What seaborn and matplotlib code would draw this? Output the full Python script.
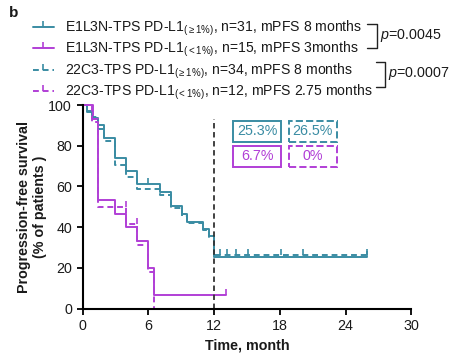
import matplotlib
matplotlib.use("Agg")
import matplotlib.pyplot as plt
import seaborn as sns
import pandas as pd
from matplotlib.lines import Line2D
from matplotlib.patches import Rectangle

# ---- Kaplan-Meier steps ----
e1_pos_t = [0, 0.42, 0.9, 1.43, 1.95, 3.0, 4.0, 5.0, 7.07, 8.04, 9.05, 9.56, 11.03, 11.55, 12.0, 26.0]
e1_pos_s = [100, 96.8, 93.5, 90.3, 83.9, 74.2, 67.7, 61.3, 57.5, 50.5, 46.5, 42.7, 39.3, 35.5, 25.3, 25.3]
e1_pos_cens_t = [6.0, 26.0]
e1_pos_cens_s = [61.3, 25.3]

e1_neg_t = [0, 0.97, 1.43, 2.95, 3.96, 5.0, 6.0, 6.52, 13.1]
e1_neg_s = [100, 93.3, 53.3, 46.7, 40.0, 33.3, 20.0, 6.7, 6.7]
e1_neg_cens_t = [13.1]
e1_neg_cens_s = [6.7]

c22_pos_t = [0, 0.42, 0.9, 1.43, 1.95, 3.0, 4.0, 5.0, 7.07, 8.04, 9.05, 9.56, 11.03, 11.55, 12.0, 26.0]
c22_pos_s = [100, 97.1, 94.1, 88.2, 82.4, 70.6, 64.7, 58.8, 55.9, 49.5, 45.5, 41.8, 38.5, 35.0, 26.5, 26.5]
c22_pos_cens_t = [12.5, 13.2, 14.0, 15.1, 18.1, 20.1, 26.0]
c22_pos_cens_s = [26.5, 26.5, 26.5, 26.5, 26.5, 26.5, 26.5]

c22_neg_t = [0, 0.9, 1.43, 4.0, 5.0, 6.0, 6.52]
c22_neg_s = [100, 91.7, 50.0, 41.7, 31.3, 18.0, 0.0]
c22_neg_cens_t = [4.0, 5.0]
c22_neg_cens_s = [50.0, 41.7]

labels = [
    r"E1L3N-TPS PD-L1$_{(\geq1\%)}$, n=31, mPFS 8 months",
    r"E1L3N-TPS PD-L1$_{(<1\%)}$, n=15, mPFS 3months",
    r"22C3-TPS PD-L1$_{(\geq1\%)}$, n=34, mPFS 8 months",
    r"22C3-TPS PD-L1$_{(<1\%)}$, n=12, mPFS 2.75 months",
]
pct_labels = ["25.3%", "26.5%", "6.7%", "0%"]
p_values = ["0.0045", "0.0007"]

TEAL = "#3a8ca3"
MAG = "#b13fd6"
INK = "#1a1a1a"
DASH = (0, (3, 2))

sns.set_theme(style="ticks")
plt.rcParams["font.family"] = ["Liberation Sans", "DejaVu Sans"]
plt.rcParams["mathtext.fontset"] = "custom"
plt.rcParams["mathtext.rm"] = "Liberation Sans"
plt.rcParams["mathtext.it"] = "Liberation Sans:italic"
plt.rcParams["mathtext.bf"] = "Liberation Sans:bold"
plt.rcParams["mathtext.default"] = "regular"
plt.rcParams["text.color"] = INK
plt.rcParams["axes.labelcolor"] = INK

fig = plt.figure(figsize=(4.56, 3.6), dpi=100)
ax = fig.add_axes([0.181, 0.143, 0.721, 0.565])

groups = [
    (e1_pos_t, e1_pos_s, e1_pos_cens_t, e1_pos_cens_s, TEAL, "-"),
    (e1_neg_t, e1_neg_s, e1_neg_cens_t, e1_neg_cens_s, MAG, "-"),
    (c22_pos_t, c22_pos_s, c22_pos_cens_t, c22_pos_cens_s, TEAL, DASH),
    (c22_neg_t, c22_neg_s, c22_neg_cens_t, c22_neg_cens_s, MAG, DASH),
]

for t, s, ct, cs, col, ls in groups:
    df = pd.DataFrame({"time": t, "surv": s})
    sns.lineplot(data=df, x="time", y="surv", ax=ax, color=col, linestyle=ls,
                 drawstyle="steps-post", estimator=None, lw=1.4, clip_on=False)
    ax.plot(ct, cs, linestyle="none", marker=2, ms=4, mew=1.2, color=col, clip_on=False)

# 12-month reference line
ax.plot([12, 12], [0, 93], color="#333333", lw=1.3, linestyle=(0, (3, 2)), clip_on=False)

# percent boxes at 12 months
boxes = [(13.7, 81.9, TEAL, "-"), (18.8, 81.9, TEAL, "--"),
         (13.7, 69.6, MAG, "-"), (18.8, 69.6, MAG, "--")]
for (bx, by, col, ls), txt in zip(boxes, pct_labels):
    ax.add_patch(Rectangle((bx, by), 4.45, 10.3, fill=False, edgecolor=col,
                           lw=1.4, linestyle=ls, clip_on=False))
    ax.text(bx + 2.22, by + 5.15, txt, color=col, fontsize=10.3, ha="center", va="center")

ax.set_xlim(0, 30)
ax.set_ylim(0, 100)
ax.set_xticks([0, 6, 12, 18, 24, 30])
ax.set_yticks([0, 20, 40, 60, 80, 100])
ax.tick_params(labelsize=10.3, width=1.3, length=4, color="black", labelcolor=INK)
for sp in ["left", "bottom"]:
    ax.spines[sp].set_linewidth(1.5)
    ax.spines[sp].set_color("black")
sns.despine(ax=ax)
ax.set_xlabel("Time, month", fontsize=10.3, fontweight="bold", labelpad=4)
ax.set_ylabel("Progression-free survival\n(% of patients )", fontsize=10.3,
              fontweight="bold", labelpad=1)

# legend
handles = [Line2D([], [], color=col, linestyle=ls, lw=1.4, marker=2, ms=4, mew=1.2)
           for _, _, _, _, col, ls in groups]
fig.legend(handles, labels, loc="upper left", bbox_to_anchor=(0.072, 0.948),
           frameon=False, fontsize=10.1, handlelength=1.5, handletextpad=0.8,
           labelspacing=0.15, borderpad=0, borderaxespad=0)

# brackets with p-values
def bracket(x0, x1, y_top, y_bot):
    H = 360.0
    W = 456.0
    xs = [x0 / W, x1 / W, x1 / W, x0 / W]
    ys = [1 - y_top / H, 1 - y_top / H, 1 - y_bot / H, 1 - y_bot / H]
    fig.add_artist(Line2D(xs, ys, color="#222222", lw=1.0, transform=fig.transFigure))

bracket(367, 377, 24, 48)
bracket(376, 385, 62, 87)
fig.text(380 / 456, 1 - 35 / 360, r"$\it{p}$=" + p_values[0], fontsize=10.3, va="center")
fig.text(388 / 456, 1 - 73 / 360, r"$\it{p}$=" + p_values[1], fontsize=10.3, va="center")

fig.text(0.02, 0.965, "b", fontsize=11, fontweight="bold", va="center")

fig.savefig("out.png", dpi=100)
